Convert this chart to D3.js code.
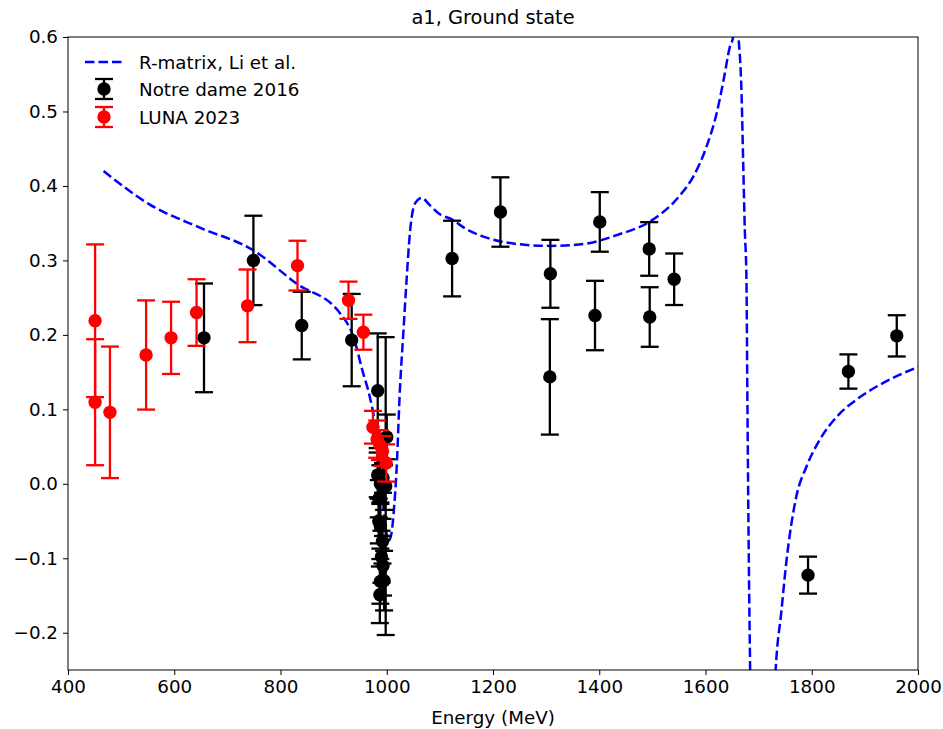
<!DOCTYPE html>
<html>
<head>
<meta charset="utf-8">
<script src="https://d3js.org/d3.v7.min.js"></script>
<style type="text/css">
body {margin:0;background:white;}
text {font-family:"DejaVu Sans",sans-serif;}
</style>
</head>
<body>
<svg id="chart" width="943" height="729"></svg>
<script type="text/javascript">
// R-matrix curve: energy (MeV) and a1
var rmE = [467, 554, 648, 748, 830, 912, 937, 955, 968, 978, 990, 998, 1004, 1009, 1014, 1018,
           1025, 1031, 1037, 1044, 1050, 1058, 1066, 1080, 1100, 1120, 1150, 1182, 1245, 1307,
           1370, 1433, 1495, 1539, 1555, 1577, 1602, 1621, 1634, 1646, 1652, 1657, 1662, 1668,
           1671, 1674, 1677, 1679, 1681.5, 1684, 1690, 1715, 1732, 1743, 1752, 1771, 1790,
           1815, 1847, 1884, 1928, 2000];
var rmV = [0.42, 0.375, 0.344, 0.314, 0.269, 0.229, 0.198, 0.15, 0.117, 0.08, 0.0, -0.06, -0.076, -0.066, -0.03, 0.012,
           0.13, 0.2, 0.27, 0.34, 0.37, 0.381, 0.384, 0.375, 0.362, 0.356, 0.342, 0.332, 0.322, 0.3195,
           0.322, 0.334, 0.352, 0.377, 0.39, 0.4125, 0.453, 0.4975, 0.542, 0.587, 0.6, 0.63, 0.6, 0.52,
           0.43, 0.341, 0.278, 0.1, -0.1, -0.25, -0.6, -0.6, -0.25, -0.17, -0.106, -0.017, 0.023,
           0.059, 0.09, 0.113, 0.133, 0.157];

// Notre dame 2016
var ndE = [656, 749, 840, 934, 983, 1000, 998, 983, 988, 993, 995, 985, 988, 985, 992, 990, 993, 988, 995, 987,
           1123, 1214, 1308, 1307, 1392, 1401, 1494, 1495, 1541, 1793, 1869, 1960];
var ndV = [0.196, 0.300, 0.2125, 0.193, 0.125, 0.063, -0.003, 0.012, 0.0, 0.008, -0.005, -0.02, -0.057, -0.05, -0.077, -0.098, -0.11, -0.131, -0.13, -0.149,
           0.3025, 0.365, 0.282, 0.1436, 0.226, 0.3517, 0.3154, 0.224, 0.2747, -0.1226, 0.1508, 0.1987];
var ndErr = [0.073, 0.06, 0.0454, 0.062, 0.077, 0.03, 0.2, 0.03, 0.025, 0.02, 0.03, 0.025, 0.03, 0.03, 0.03, 0.035, 0.04, 0.03, 0.04, 0.038,
             0.0508, 0.0466, 0.0456, 0.0775, 0.0466, 0.040, 0.036, 0.040, 0.0346, 0.0248, 0.023, 0.0277];

// LUNA 2023
var lunaE = [451, 451, 479, 547, 594, 642, 738, 832, 928, 956, 974, 982, 987, 992, 999];
var lunaV = [0.219, 0.1096, 0.096, 0.173, 0.196, 0.230, 0.239, 0.293, 0.2465, 0.2036, 0.076, 0.06, 0.052, 0.044, 0.028];
var lunaErr = [0.1025, 0.0846, 0.0883, 0.0733, 0.0485, 0.0447, 0.0488, 0.0334, 0.025, 0.0235, 0.022, 0.025, 0.02, 0.02, 0.025];

var xTicks = [400, 600, 800, 1000, 1200, 1400, 1600, 1800, 2000];
var yTicks = [-0.2, -0.1, 0.0, 0.1, 0.2, 0.3, 0.4, 0.5, 0.6];

var svg = d3.select("#chart");
var pLeft = 68, pRight = 918, pTop = 37, pBottom = 670;
var fs = 18.3;

var x = d3.scaleLinear().domain([400, 2000]).range([pLeft, pRight]);
var y = d3.scaleLinear().domain([-0.25, 0.6]).range([pBottom, pTop]);

svg.append("clipPath").attr("id", "clip")
  .append("rect").attr("x", pLeft).attr("y", pTop).attr("width", pRight - pLeft).attr("height", pBottom - pTop);

var plot = svg.append("g").attr("clip-path", "url(#clip)");

// curve
var line = d3.line()
  .x(function(d, i) { return x(rmE[i]); })
  .y(function(d, i) { return y(rmV[i]); })
  .curve(d3.curveMonotoneX);
plot.append("path").datum(rmE)
  .attr("d", line)
  .attr("fill", "none")
  .attr("stroke", "#0000ff")
  .attr("stroke-width", 2.5)
  .attr("stroke-dasharray", "9.5,4");

function errorbars(g, es, vs, errs, color) {
  var cap = 9;
  for (var i = 0; i < es.length; i++) {
    var cx = x(es[i]);
    var y1 = y(vs[i] + errs[i]), y2 = y(vs[i] - errs[i]);
    g.append("line").attr("x1", cx).attr("x2", cx).attr("y1", y1).attr("y2", y2)
      .attr("stroke", color).attr("stroke-width", 2.3);
    g.append("line").attr("x1", cx - cap).attr("x2", cx + cap).attr("y1", y1).attr("y2", y1)
      .attr("stroke", color).attr("stroke-width", 2.3);
    g.append("line").attr("x1", cx - cap).attr("x2", cx + cap).attr("y1", y2).attr("y2", y2)
      .attr("stroke", color).attr("stroke-width", 2.3);
  }
  for (var j = 0; j < es.length; j++) {
    g.append("circle").attr("cx", x(es[j])).attr("cy", y(vs[j])).attr("r", 6.7).attr("fill", color);
  }
}

errorbars(plot.append("g"), ndE, ndV, ndErr, "black");
errorbars(plot.append("g"), lunaE, lunaV, lunaErr, "#ff0000");

// axes
var xAxis = d3.axisBottom(x).tickValues(xTicks).tickSize(5).tickPadding(5).tickFormat(d3.format("d"));
var yAxis = d3.axisLeft(y).tickValues(yTicks).tickSize(5).tickPadding(5)
  .tickFormat(function(d) { return d3.format(".1f")(d).replace("-", "\u2212"); });

var gx = svg.append("g").attr("transform", "translate(0," + pBottom + ")").call(xAxis);
var gy = svg.append("g").attr("transform", "translate(" + pLeft + ",0)").call(yAxis);
[gx, gy].forEach(function(g) {
  g.select(".domain").remove();
  g.selectAll("line").attr("stroke", "black").attr("stroke-width", 1);
  g.selectAll("text").attr("font-size", fs).attr("fill", "black").attr("font-family", "DejaVu Sans");
});

svg.append("rect").attr("x", pLeft).attr("y", pTop).attr("width", pRight - pLeft).attr("height", pBottom - pTop)
  .attr("fill", "none").attr("stroke", "black").attr("stroke-width", 1);

svg.append("text").attr("x", (pLeft + pRight) / 2).attr("y", 24).attr("text-anchor", "middle")
  .attr("font-size", 19.4).text("a1, Ground state");
svg.append("text").attr("x", (pLeft + pRight) / 2).attr("y", 724).attr("text-anchor", "middle")
  .attr("font-size", fs).text("Energy (MeV)");

// legend
var lg = svg.append("g");
lg.append("line").attr("x1", 85).attr("x2", 124).attr("y1", 62).attr("y2", 62)
  .attr("stroke", "#0000ff").attr("stroke-width", 2.5).attr("stroke-dasharray", "9.5,4");
lg.append("text").attr("x", 139).attr("y", 68.5).attr("font-size", fs).text("R-matrix, Li et al.");
var items = [["Notre dame 2016", "black", 89], ["LUNA 2023", "#ff0000", 117]];
items.forEach(function(it) {
  var cx = 104, cy = it[2];
  lg.append("line").attr("x1", cx).attr("x2", cx).attr("y1", cy - 10).attr("y2", cy + 10).attr("stroke", it[1]).attr("stroke-width", 2.3);
  lg.append("line").attr("x1", cx - 9).attr("x2", cx + 9).attr("y1", cy - 10).attr("y2", cy - 10).attr("stroke", it[1]).attr("stroke-width", 2.3);
  lg.append("line").attr("x1", cx - 9).attr("x2", cx + 9).attr("y1", cy + 10).attr("y2", cy + 10).attr("stroke", it[1]).attr("stroke-width", 2.3);
  lg.append("circle").attr("cx", cx).attr("cy", cy).attr("r", 6.7).attr("fill", it[1]);
  lg.append("text").attr("x", 139).attr("y", cy + 6.5).attr("font-size", fs).text(it[0]);
});
</script>
</body>
</html>
